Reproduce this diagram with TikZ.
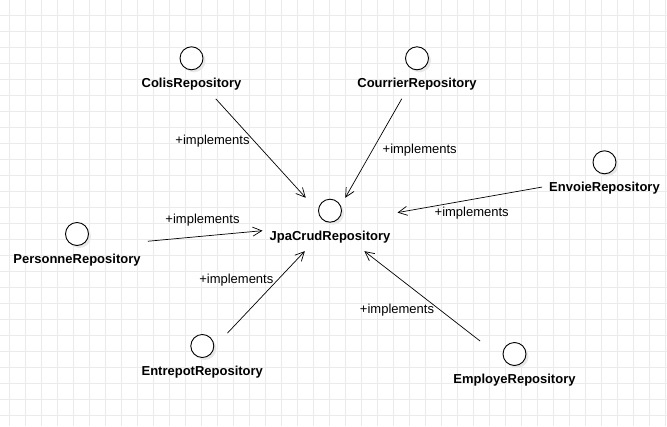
\documentclass[tikz,border=0pt]{standalone}
\usepackage{fontspec}
\setmainfont{Liberation Sans}
\usetikzlibrary{arrows.meta,positioning,fit,shadows}
\tikzset{
  iface/.style={circle, draw, fill=white, minimum size=23pt, inner sep=0pt, line width=0.9pt,
    drop shadow={shadow xshift=2.5pt, shadow yshift=-2.5pt, fill=black!9, opacity=1}},
  ifname/.style={font=\fontsize{13}{15}\selectfont\bfseries, inner xsep=6pt, inner ysep=7pt},
  grp/.style={inner sep=0.8pt},
  impl/.style={line width=0.7pt, -{Straight Barb[length=9pt,width=9pt]}},
  impllbl/.style={font=\fontsize{13}{15}\selectfont, inner sep=0pt},
  gridline/.style={black!8, line width=0.8pt}
}
\begin{document}
\begin{tikzpicture}[x=1pt,y=-1pt]
  \useasboundingbox[fill=white] (0,0) rectangle (667,426);
  % grid
  \foreach \gx in {9.5,25.5,...,666} \draw[gridline] (\gx,0) -- (\gx,426);
  \foreach \gy in {15,31,...,426} \draw[gridline] (0,\gy) -- (667,\gy);

  % interfaces
  \node[iface] (colis) at (191.5,58.3) {};
  \node[iface] (courrier) at (417,58.3) {};
  \node[iface] (envoie) at (604.5,162.3) {};
  \node[iface] (jpa) at (330,210.7) {};
  \node[iface] (personne) at (77,234) {};
  \node[iface] (entrepot) at (202.3,346) {};
  \node[iface] (employe) at (514.5,354) {};

  \node[ifname, below=1pt of colis] (colisName) {ColisRepository};
  \node[ifname, below=1pt of courrier] (courrierName) {CourrierRepository};
  \node[ifname, below=1pt of envoie] (envoieName) {EnvoieRepository};
  \node[ifname, below=1pt of jpa] (jpaName) {JpaCrudRepository};
  \node[ifname, below=1pt of personne] (personneName) {PersonneRepository};
  \node[ifname, below=1pt of entrepot] (entrepotName) {EntrepotRepository};
  \node[ifname, below=1pt of employe] (employeName) {EmployeRepository};

  \node[grp, fit=(colis)(colisName)] (colisGrp) {};
  \node[grp, fit=(courrier)(courrierName)] (courrierGrp) {};
  \node[grp, fit=(envoie)(envoieName)] (envoieGrp) {};
  \node[grp, fit=(jpa)(jpaName)] (jpaGrp) {};
  \node[grp, fit=(personne)(personneName)] (personneGrp) {};
  \node[grp, fit=(entrepot)(entrepotName)] (entrepotGrp) {};
  \node[grp, fit=(employe)(employeName)] (employeGrp) {};

  % realisations
  \draw[impl] (colisGrp) -- (jpaGrp);
  \draw[impl] (courrierGrp) -- (jpaGrp);
  \draw[impl] (envoieGrp) -- (jpaGrp);
  \draw[impl] (personneGrp) -- (jpaGrp);
  \draw[impl] (entrepotGrp) -- (jpaGrp);
  \draw[impl] (employeGrp) -- (jpaGrp);

  \node[impllbl] (colisImpl) at (212.5,140.8) {+implements};
  \node[impllbl] (courrierImpl) at (419.7,149.8) {+implements};
  \node[impllbl] (envoieImpl) at (471.7,213) {+implements};
  \node[impllbl] (personneImpl) at (202.5,219.8) {+implements};
  \node[impllbl] (entrepotImpl) at (236.3,280.5) {+implements};
  \node[impllbl] (employeImpl) at (397,310.5) {+implements};
\end{tikzpicture}
\end{document}
